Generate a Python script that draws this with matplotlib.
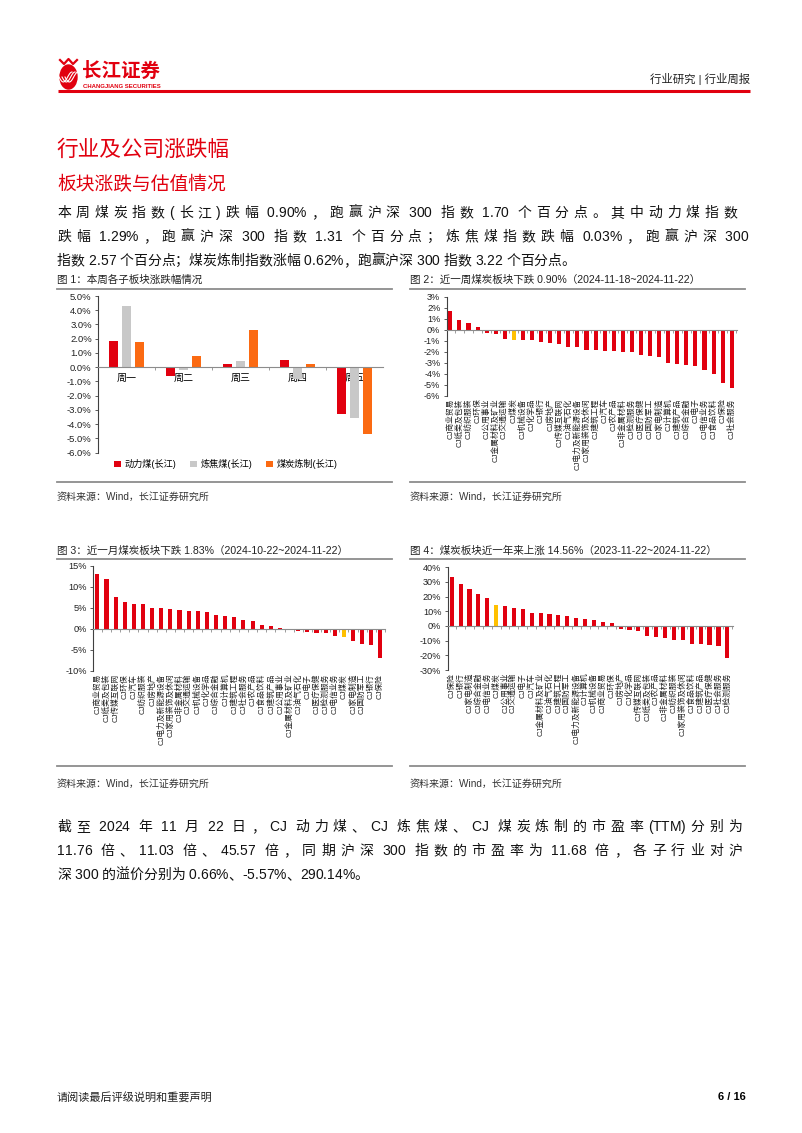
import matplotlib
matplotlib.use('Agg')
import matplotlib.pyplot as plt
from matplotlib.patches import Ellipse
from matplotlib.ticker import FuncFormatter
from matplotlib.font_manager import FontProperties, findfont, get_font
import numpy as np

W, H = 802, 1133
plt.rcParams['font.family'] = ['Liberation Sans', 'Noto Sans CJK SC']
plt.rcParams['axes.unicode_minus'] = False

RED = '#E1000F'
GRAY = '#C8C8C8'
ORANGE = '#FB6A12'
YEL = '#FFC000'
LINE = '#8C8C8C'
AXC = '#404040'

# ---- fig 1: daily moves of the three sub-sectors
days = ['周一', '周二', '周三', '周四', '周五']
thermal = [1.85, -0.60, 0.23, 0.54, -3.27]
coking = [4.28, -0.20, 0.42, -0.85, -3.53]
refining = [1.80, 0.80, 2.62, 0.23, -4.70]

# ---- fig 2: last week
week_labels = ['CJ商业贸易', 'CJ纸类及包装', 'CJ纺织服装', 'CJ环保', 'CJ公用事业',
               'CJ金属材料及矿业', 'CJ交通运输', 'CJ煤炭', 'CJ机械设备', 'CJ化学品',
               'CJ银行', 'CJ房地产', 'CJ传媒互联网', 'CJ油气石化', 'CJ电力及新能源设备',
               'CJ家用装饰及休闲', 'CJ建筑工程', 'CJ汽车', 'CJ农产品', 'CJ非金属材料',
               'CJ检测服务', 'CJ医疗保健', 'CJ国防军工', 'CJ家电制造', 'CJ计算机',
               'CJ建筑产品', 'CJ综合金融', 'CJ电子', 'CJ电信业务', 'CJ食品饮料',
               'CJ保险', 'CJ社会服务']
week_vals = [1.70, 0.90, 0.60, 0.27, -0.30, -0.36, -0.85, -0.90, -0.92, -0.97,
             -1.12, -1.18, -1.30, -1.55, -1.58, -1.82, -1.82, -1.90, -1.97, -2.03,
             -2.06, -2.27, -2.42, -2.50, -3.03, -3.10, -3.24, -3.30, -3.70, -4.00,
             -4.85, -5.33]

# ---- fig 3: last month
month_labels = ['CJ商业贸易', 'CJ纸类及包装', 'CJ传媒互联网', 'CJ环保', 'CJ汽车',
                'CJ纺织服装', 'CJ房地产', 'CJ电力及新能源设备', 'CJ家用装饰及休闲',
                'CJ非金属材料', 'CJ交通运输', 'CJ机械设备', 'CJ化学品', 'CJ综合金融',
                'CJ计算机', 'CJ建筑工程', 'CJ社会服务', 'CJ农产品', 'CJ食品饮料',
                'CJ建筑产品', 'CJ公用事业', 'CJ金属材料及矿业', 'CJ油气石化', 'CJ电子',
                'CJ医疗保健', 'CJ检测服务', 'CJ电信业务', 'CJ煤炭', 'CJ家电制造',
                'CJ国防军工', 'CJ银行', 'CJ保险']
month_vals = [13.2, 11.9, 7.7, 6.5, 5.95, 5.9, 5.0, 5.0, 4.8, 4.6, 4.4, 4.3, 4.0,
              3.3, 3.0, 2.9, 2.1, 1.8, 1.0, 0.7, 0.2, 0.08, -0.5, -0.8, -0.9, -1.0,
              -1.7, -1.83, -2.9, -3.6, -3.7, -6.8]

# ---- fig 4: last year
year_labels = ['CJ保险', 'CJ银行', 'CJ家电制造', 'CJ综合金融', 'CJ电信业务', 'CJ煤炭',
               'CJ公用事业', 'CJ交通运输', 'CJ电子', 'CJ汽车', 'CJ金属材料及矿业',
               'CJ油气石化', 'CJ建筑工程', 'CJ国防军工', 'CJ电力及新能源设备', 'CJ计算机',
               'CJ机械设备', 'CJ商业贸易', 'CJ环保', 'CJ房地产', 'CJ化学品',
               'CJ传媒互联网', 'CJ纸类及包装', 'CJ农产品', 'CJ非金属材料', 'CJ纺织服装',
               'CJ家用装饰及休闲', 'CJ食品饮料', 'CJ建筑产品', 'CJ医疗保健', 'CJ社会服务',
               'CJ检测服务']
year_vals = [33.2, 28.9, 25.2, 21.8, 19.3, 14.56, 13.6, 12.3, 11.8, 8.9, 8.6, 8.2,
             7.5, 6.6, 5.2, 5.0, 3.9, 2.7, 2.3, -2.0, -3.0, -3.6, -6.8, -7.7, -8.0,
             -9.8, -9.8, -12.0, -12.3, -13.0, -13.4, -21.6]

para1 = ['本周煤炭指数(长江)跌幅 0.90%，跑赢沪深 300 指数 1.70 个百分点。其中动力煤指数',
         '跌幅 1.29%，跑赢沪深 300 指数 1.31 个百分点；炼焦煤指数跌幅 0.03%，跑赢沪深 300',
         '指数 2.57 个百分点；煤炭炼制指数涨幅 0.62%，跑赢沪深 300 指数 3.22 个百分点。']
para2 = ['截至 2024 年 11 月 22 日，CJ 动力煤、CJ 炼焦煤、CJ 煤炭炼制的市盈率(TTM)分别为',
         '11.76 倍、11.03 倍、45.57 倍，同期沪深 300 指数的市盈率为 11.68 倍，各子行业对沪',
         '深 300 的溢价分别为 0.66%、-5.57%、290.14%。']

fig = plt.figure(figsize=(W / 100, H / 100), dpi=100)
page = fig.add_axes([0, 0, 1, 1])
page.set_xlim(0, W)
page.set_ylim(H, 0)
page.axis('off')

FT_LAT = get_font(findfont(FontProperties(family='Liberation Sans')))
FT_CJK = get_font(findfont(FontProperties(family='Noto Sans CJK SC')))


def advance(c, fs):
    ft = FT_LAT if FT_LAT.get_char_index(ord(c)) else FT_CJK
    ft.set_size(fs, 100)
    return ft.load_char(ord(c)).linearHoriAdvance / 65536


def is_cjk(c):
    return ord(c) > 0x2e80


def body_line(x0, yc, s, fs, x1=None, color='#111111'):
    # justified line: extra room goes between CJK chars and once per space
    adv = [advance(c, fs) for c in s]
    gaps = [s[i + 1] != ' ' and (is_cjk(s[i]) or is_cjk(s[i + 1]) or s[i] == ' ')
            for i in range(len(s) - 1)]
    extra = 0 if x1 is None else (x1 - x0 - sum(adv)) / max(sum(gaps), 1)
    base = yc + 0.36 * fs * 100 / 72
    x = x0
    for i, c in enumerate(s):
        if c != ' ':
            page.text(x + adv[i] / 2, base, c, fontsize=fs, ha='center', va='baseline',
                      color=color)
        x += adv[i] + (extra if i < len(gaps) and gaps[i] else 0)


def box(l, t, r, b):
    return fig.add_axes([l / W, 1 - b / H, (r - l) / W, (b - t) / H])


def style_y(ax, fmt, size):
    for s in ['top', 'right']:
        ax.spines[s].set_visible(False)
    ax.spines['left'].set_color(AXC)
    ax.spines['left'].set_linewidth(0.8)
    ax.yaxis.set_major_formatter(FuncFormatter(lambda v, p: fmt.format(v)))
    ax.tick_params(axis='y', labelsize=size, length=2.5, width=0.6, color=AXC,
                   labelcolor='#222222', pad=2)
    ax.patch.set_alpha(0)


# ---------------- header
page.add_patch(Ellipse((68.5, 77), 17, 24, color=RED))
for dx in (-3, 0, 3):
    xs = np.linspace(62 + dx, 75 + dx, 20)
    page.plot(xs, 77 + 5 * np.sin((xs - 62 - dx) / 13 * np.pi * 1.5), color='white', lw=0.8)
page.plot([60, 64, 68.5, 73, 77], [60, 64, 59, 64, 60], color=RED, lw=1.6)
page.text(82, 71, '长江证券', color=RED, fontsize=14, fontweight='bold', va='center',
          family=['Noto Sans CJK SC'])
page.text(83, 86, 'CHANGJIANG SECURITIES', color=RED, fontsize=4.3, va='center',
          fontweight='bold')
page.text(750, 79, '行业研究 | 行业周报', fontsize=8.2, ha='right', va='center', color='#222222')
page.plot([58, 750], [91, 91], color=RED, lw=2.2, solid_capstyle='butt')

page.text(56, 150, '行业及公司涨跌幅', color=RED, fontsize=15.6, va='center')
page.text(57, 185, '板块涨跌与估值情况', color=RED, fontsize=13.5, va='center')
for i, (s, x1) in enumerate(zip(para1, [737, 748, None])):
    body_line(57, 212 + 24 * i, s, 10.0, x1)
for i, (s, x1) in enumerate(zip(para2, [742, 742, None])):
    body_line(57, 826 + 24 * i, s, 10.0, x1)

# captions / frames
caps = [(57, 280, 289, 482, 497, '图 1：本周各子板块涨跌幅情况'),
        (410, 280, 289, 482, 497, '图 2：近一周煤炭板块下跌 0.90%（2024-11-18~2024-11-22）'),
        (57, 551, 559, 766, 784, '图 3：近一月煤炭板块下跌 1.83%（2024-10-22~2024-11-22）'),
        (410, 551, 559, 766, 784, '图 4：煤炭板块近一年来上涨 14.56%（2023-11-22~2024-11-22）')]
for x0, yc, yl, yb, ys, txt in caps:
    page.text(x0, yc, txt, fontsize=7.6, va='center', color='#222222')
    page.plot([x0, x0 + 335], [yl, yl], color=LINE, lw=1.3)
    page.plot([x0, x0 + 335], [yb, yb], color=LINE, lw=1.3)
    page.text(x0, ys, '资料来源：Wind，长江证券研究所', fontsize=7.2, va='center', color='#333333')

page.text(57, 1097, '请阅读最后评级说明和重要声明', fontsize=8, va='center', color='#222222')
page.text(746, 1097, '6 / 16', fontsize=8, va='center', ha='right', fontweight='bold')

# ---------------- fig 1
ax1 = box(98, 296, 383, 452.7)
xd = np.arange(len(days))
ax1.bar(xd - 0.226, thermal, 0.165, color=RED, label='动力煤(长江)', zorder=2)
ax1.bar(xd, coking, 0.165, color=GRAY, label='炼焦煤(长江)', zorder=2)
ax1.bar(xd + 0.226, refining, 0.165, color=ORANGE, label='煤炭炼制(长江)', zorder=2)
ax1.set_xlim(-0.5, 4.5)
ax1.set_ylim(-6, 5)
ax1.set_yticks(np.arange(-6, 5.5, 1))
style_y(ax1, '{:.1f}%', 6.8)
ax1.spines['bottom'].set_position(('data', 0))
ax1.spines['bottom'].set_color(LINE)
ax1.spines['bottom'].set_linewidth(0.8)
ax1.set_xticks(xd)
ax1.set_xticklabels(days, fontsize=7.2)
ax1.set_xticks(xd[1:] - 0.5, minor=True)
ax1.tick_params(axis='x', which='major', length=0, pad=4)
ax1.tick_params(axis='x', which='minor', length=2, width=0.6, color=LINE)
ax1.legend(loc='center', bbox_to_anchor=(226 / W, 1 - 464 / H), bbox_transform=fig.transFigure,
           ncol=3, frameon=False, fontsize=6.6, handlelength=0.75, handleheight=0.75,
           handletextpad=0.4, columnspacing=1.5, borderpad=0)


# ---------------- figs 2-4
def rank_chart(rect, labels, vals, ylo, yhi, step, xl, xr, width):
    ax = box(*rect)
    x = np.arange(len(vals))
    colors = [YEL if s == 'CJ煤炭' else RED for s in labels]
    ax.bar(x, vals, width=width, color=colors, zorder=2)
    ax.set_xlim(xl, xr)
    ax.set_ylim(ylo, yhi)
    ax.set_yticks(np.arange(ylo, yhi + step / 2, step))
    style_y(ax, '{:.0f}%', 6.6)
    ax.spines['bottom'].set_position(('data', 0))
    ax.spines['bottom'].set_color(LINE)
    ax.spines['bottom'].set_linewidth(0.8)
    ax.set_xticks(np.append(x[1:] - 0.5, x[-1] + 0.5))
    ax.set_xticklabels([])
    ax.tick_params(axis='x', length=2, width=0.6, color=LINE)
    sec = ax.secondary_xaxis('bottom')
    sec.set_xticks(x)
    sec.set_xticklabels(labels, rotation=90, fontsize=5.6, color='#222222')
    sec.tick_params(length=0, pad=2)
    sec.spines['bottom'].set_visible(False)
    return ax


rank_chart((446.7, 296.7, 736.7, 395.7), week_labels, week_vals, -6, 3, 1, -0.4, 31.55, 0.45)
rank_chart((93.3, 566, 385, 671), month_labels, month_vals, -10, 15, 5, -0.44, 31.48, 0.45)
rank_chart((447.7, 567.3, 733, 670), year_labels, year_vals, -30, 40, 10, -0.45, 31.64, 0.47)

fig.savefig('out.png', dpi=100)
